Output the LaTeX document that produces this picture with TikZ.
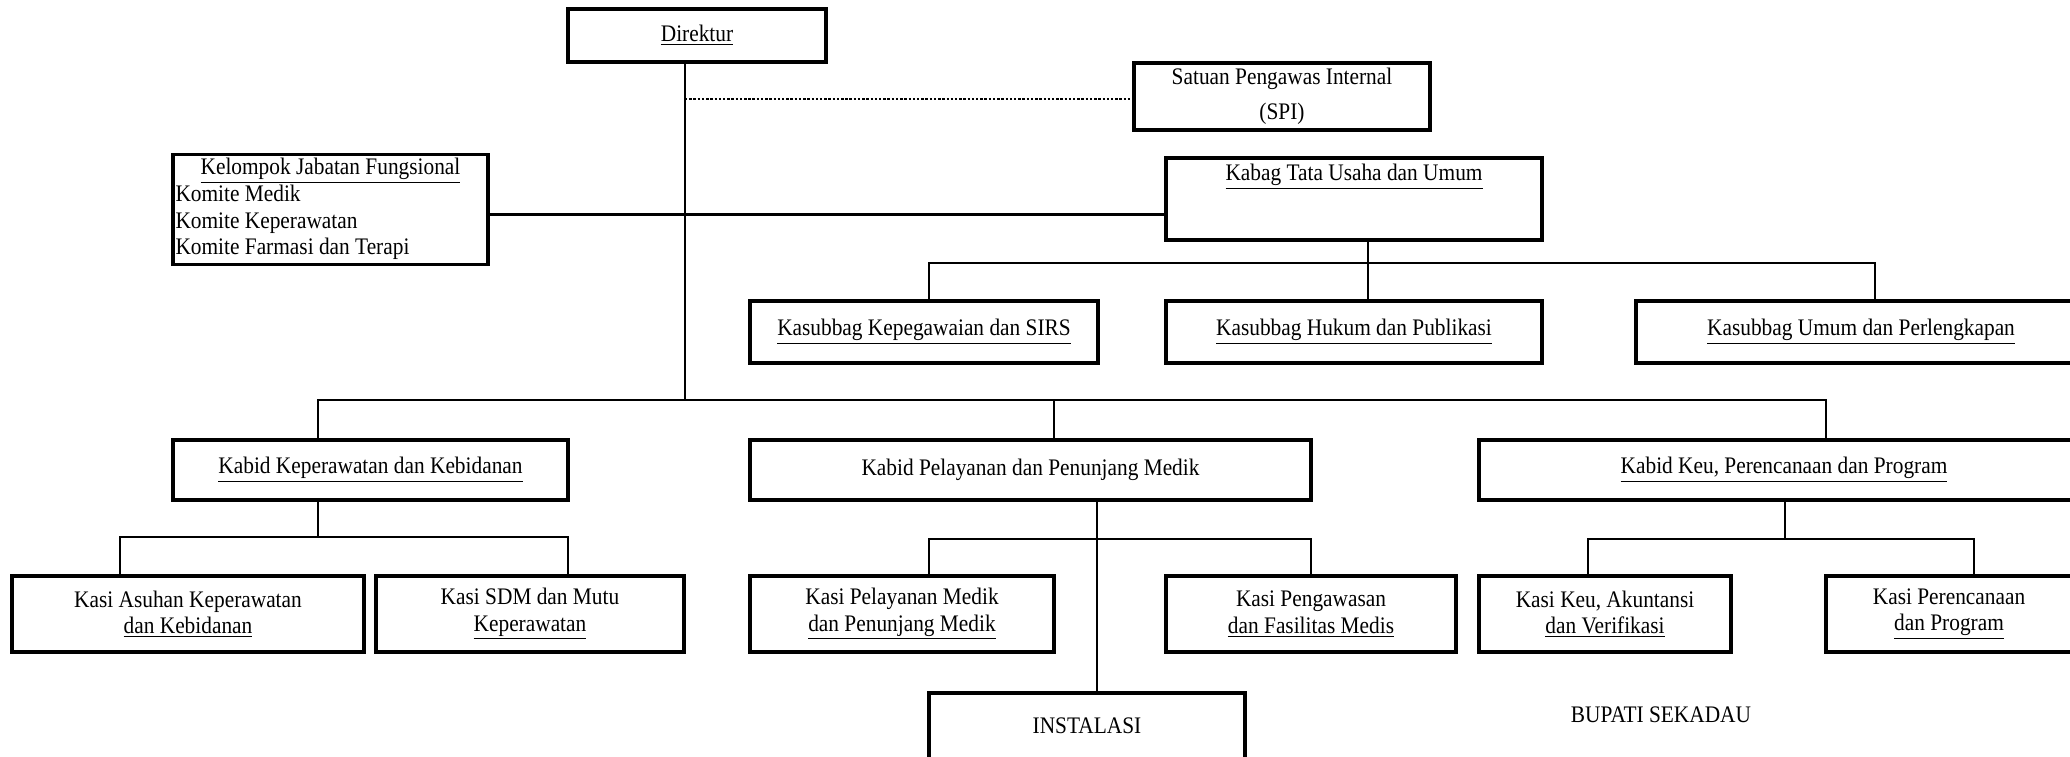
\documentclass[tikz,border=0pt]{standalone}
\usepackage{fontspec}
\setmainfont[FakeStretch=0.9]{Liberation Serif}
\usetikzlibrary{positioning}

\begin{document}
\begin{tikzpicture}
      \tikzset{ orgbox/.style={draw=black, rectangle, line width=1.8pt, inner sep=1pt, align=center, font=\fontsize{13.5}{15}\selectfont} }
      \tikzset{ conn/.style  ={draw=black, line width=1.5pt                                                                           } }
      \tikzset{ plain/.style ={inner sep=0pt, font=\fontsize{13.5}{15}\selectfont                                                     } }

      \clip (0, 0) rectangle (41.4, -15.12);

      \node[orgbox, minimum width=5.16cm, minimum height=1.06cm] (dir)   at (13.94, -0.71) {\underline{Direktur}};
      \node[orgbox, minimum width=5.92cm, minimum height=1.34cm] (spi)   at (25.64, -1.93) {Satuan Pengawas Internal\\[5pt](SPI)};
      \node[orgbox, minimum width=6.30cm, minimum height=2.14cm] (kel)   at ( 6.61, -4.19) {\begin{tabular}{@{}p{6.2cm}@{}}\multicolumn{1}{@{}c@{}}{\underline{Kelompok Jabatan Fungsional}}\\ Komite Medik\\ Komite Keperawatan\\ Komite Farmasi dan Terapi\end{tabular}};
      \node[orgbox, minimum width=7.52cm, minimum height=1.64cm,
            label={[plain, anchor=north, yshift=-1.5mm]north:\underline{Kabag Tata Usaha dan Umum}}] (kabag) at (27.08, -3.98) {};

      \node[orgbox, minimum width=6.96cm, minimum height=1.24cm] (ksb1)  at (18.48, -6.64) {\underline{Kasubbag Kepegawaian dan SIRS}};
      \node[orgbox, minimum width=7.52cm, minimum height=1.24cm] (ksb2)  at (27.08, -6.64) {\underline{Kasubbag Hukum dan Publikasi}};
      \node[orgbox, minimum width=9.00cm, minimum height=1.24cm] (ksb3)  at (37.22, -6.64) {\underline{Kasubbag Umum dan Perlengkapan}};

      \node[orgbox, minimum width=7.90cm, minimum height=1.20cm] (kb1)   at ( 7.41, -9.40) {\underline{Kabid Keperawatan dan Kebidanan}};
      \node[orgbox, minimum width=11.22cm,minimum height=1.20cm] (kb2)   at (20.61, -9.40) {Kabid Pelayanan dan Penunjang Medik};
      \node[orgbox, minimum width=12.20cm,minimum height=1.20cm] (kb3)   at (35.68, -9.40) {\underline{Kabid Keu, Perencanaan dan Program}};

      \node[orgbox, minimum width=7.04cm, minimum height=1.52cm] (ks1)   at ( 3.76, -12.28) {Kasi Asuhan Keperawatan\\\underline{dan Kebidanan}};
      \node[orgbox, minimum width=6.16cm, minimum height=1.52cm] (ks2)   at (10.60, -12.28) {Kasi SDM dan Mutu\\\underline{Keperawatan}};
      \node[orgbox, minimum width=6.08cm, minimum height=1.52cm] (ks3)   at (18.04, -12.28) {Kasi Pelayanan Medik\\\underline{dan Penunjang Medik}};
      \node[orgbox, minimum width=5.80cm, minimum height=1.52cm] (ks4)   at (26.22, -12.28) {Kasi Pengawasan\\\underline{dan Fasilitas Medis}};
      \node[orgbox, minimum width=5.04cm, minimum height=1.52cm] (ks5)   at (32.10, -12.28) {Kasi Keu, Akuntansi\\\underline{dan Verifikasi}};
      \node[orgbox, minimum width=4.92cm, minimum height=1.52cm] (ks6)   at (38.98, -12.28) {Kasi Perencanaan\\\underline{dan Program}};

      \node[orgbox, minimum width=6.32cm, minimum height=1.32cm] (inst)  at (21.74, -14.52) {INSTALASI};
      \node[plain] (bupati) at (33.22, -14.30) {BUPATI SEKADAU};

      % branch points
      \coordinate (trunk) at (13.70, -8.00);
      \coordinate (tu)    at (27.36, -5.26);
      \coordinate (kep)   at ( 6.36, -10.74);
      \coordinate (pel)   at (21.94, -10.78);
      \coordinate (keu)   at (35.70, -10.78);

      \draw[conn] (dir.south -| trunk) -- (trunk);
      \draw[conn, line width=1.4pt, densely dotted] ([yshift=-0.5mm]spi.west -| trunk) -- ([yshift=-0.5mm]spi.west);
      \draw[conn] ([yshift=-1mm]kel.east) -- ([yshift=-1mm]kel.east -| kabag.west);
      \draw[conn] ([xshift=-10.5mm]kb1.north) |- (trunk) -| ([xshift=8.4mm]kb3.north);
      \draw[conn] ([xshift=4.7mm]kb2.north) -- ([xshift=4.7mm]kb2.north |- trunk);

      \draw[conn] (kabag.south -| tu) -- (tu);
      \draw[conn] ([xshift=1mm]ksb1.north) |- (tu) -| ([xshift=2.8mm]ksb3.north);
      \draw[conn] (ksb2.north -| tu) -- (tu);

      \draw[conn] (kb1.south -| kep) -- (kep);
      \draw[conn] ([xshift=-13.6mm]ks1.north) |- (kep) -| ([xshift=7.6mm]ks2.north);

      \draw[conn] (kb2.south -| pel) -- (inst.north -| pel);
      \draw[conn] ([xshift=5.4mm]ks3.north) |- (pel) -| (ks4.north);

      \draw[conn] (kb3.south -| keu) -- (keu);
      \draw[conn] ([xshift=-3.4mm]ks5.north) |- (keu) -| ([xshift=5mm]ks6.north);
\end{tikzpicture}
\end{document}
